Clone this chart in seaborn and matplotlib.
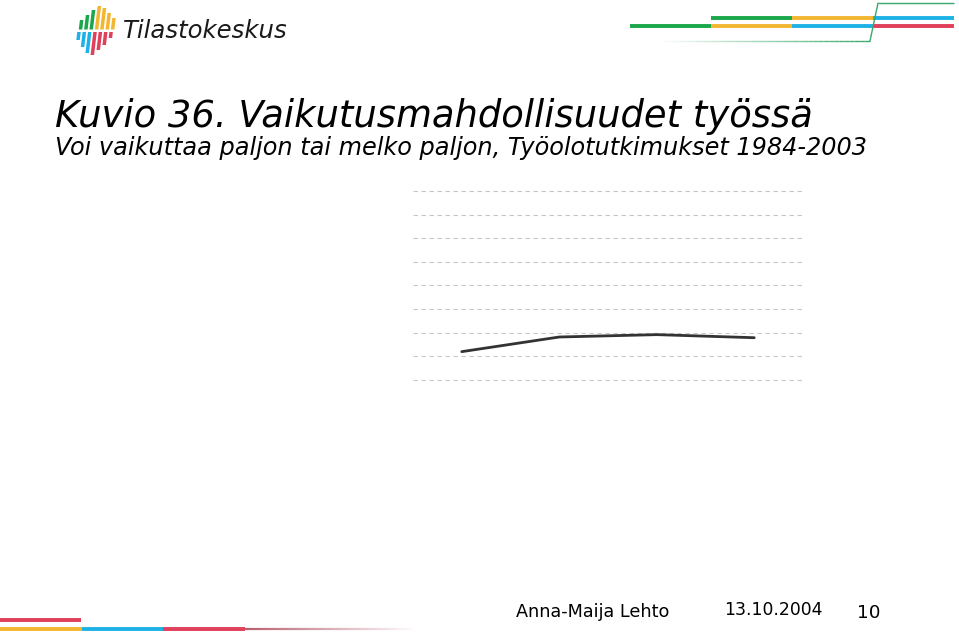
import numpy as np
import pandas as pd
import matplotlib
matplotlib.use("Agg")
import matplotlib.pyplot as plt
import seaborn as sns
from matplotlib.patches import Polygon
from matplotlib.lines import Line2D

# ---- data ----
years = ["1984", "1990", "1997", "2003"]
share = [22.0, 28.2, 29.2, 27.9]
grid_values = [10, 20, 30, 40, 50, 60, 70, 80, 90]

title = "Kuvio 36. Vaikutusmahdollisuudet työssä"
subtitle = "Voi vaikuttaa paljon tai melko paljon, Työolotutkimukset 1984-2003"
author = "Anna-Maija Lehto"
date = "13.10.2004"
page = "10"

W, H = 959, 635
sns.set_theme(style="white")
plt.rcParams['font.family'] = ['DejaVu Sans']

fig = plt.figure(figsize=(W / 100, H / 100), dpi=100)
fig.patch.set_facecolor("white")

def fx(x):
    return x / W

def fy(y):
    return 1 - y / H

# ---- plot area ----
ax = fig.add_axes([fx(413), fy(380), fx(803) - fx(413), fy(191) - fy(380)])
df = pd.DataFrame({"year": years, "share": share})
sns.lineplot(data=df, x="year", y="share", ax=ax, color="#333333", linewidth=2.0)
ax.set_xlim(-0.5, len(years) - 0.5)
ax.set_ylim(min(grid_values), max(grid_values))
ax.set_yticks(grid_values)
ax.yaxis.grid(True, linestyle=(0, (4, 3.2)), color="#c8c8c8", linewidth=0.8)
ax.xaxis.grid(False)
for sp in ax.spines.values():
    sp.set_visible(False)
ax.tick_params(left=False, bottom=False, labelleft=False, labelbottom=False)
ax.set_xlabel("")
ax.set_ylabel("")
for gl in ax.get_ygridlines():
    gl.set_clip_on(False)

# ---- text helpers ----
renderer = fig.canvas.get_renderer()

def fit_text(x, y_base, s, target_w, size0, **kw):
    t = fig.text(fx(x), fy(y_base), s, fontsize=size0, va="baseline", ha="left", **kw)
    w = t.get_window_extent(renderer).width
    t.set_fontsize(size0 * target_w / w)
    return t

fit_text(55, 127, title, 757, 28, style="italic", color="black")
fit_text(55, 155, subtitle, 813, 18, style="italic", color="black")

fit_text(516, 617, author, 152, 12, color="black")
fit_text(724, 615, date, 98, 12, color="black")
fit_text(857, 618, page, 23, 13, color="black")

# ---- logo ----
green = "#1aa64a"
yellow = "#f2b631"
blue = "#1eb1e6"
red = "#e0405a"

upper_tops = [20, 15, 10, 6, 8, 13, 18]
upper_cols = [green, green, green, yellow, yellow, yellow, yellow]
lower_bots = [40, 47, 53, 55, 50, 45, 38]
lower_cols = [blue, blue, blue, red, red, red, red]
x0 = 77.5
bw = 3.5
step = 5.35
slant = 0.12

def slanted_bar(xl, ytop, ybot, c):
    pts = [(xl + slant * (40 - ytop), ytop), (xl + bw + slant * (40 - ytop), ytop),
           (xl + bw + slant * (40 - ybot), ybot), (xl + slant * (40 - ybot), ybot)]
    fig.add_artist(Polygon([(fx(a), fy(b)) for a, b in pts], closed=True, color=c, lw=0))

for i in range(7):
    xl = x0 + i * step
    slanted_bar(xl, upper_tops[i], 29.5, upper_cols[i])
    slanted_bar(xl - 1.2, 32, lower_bots[i], lower_cols[i])

fit_text(123, 38, "Tilastokeskus", 165, 18, style="italic", color="#1a1a1a")

# ---- decorative lines ----
def hline(x1, x2, y, c, lw=3.0, alpha=1.0):
    fig.add_artist(Line2D([fx(x1), fx(x2)], [fy(y), fy(y)], color=c, lw=lw,
                          alpha=alpha, solid_capstyle="butt"))

# top right
hline(711, 792, 17.5, green, 2.8)
hline(792, 873, 17.5, yellow, 2.8)
hline(873, 954, 17.5, blue, 2.8)
hline(630, 711, 25.5, green, 2.8)
hline(711, 792, 25.5, yellow, 2.8)
hline(792, 873, 25.5, blue, 2.8)
hline(873, 954, 25.5, red, 2.8)
hline(878, 954, 3, "#3aa86a", 1.0)
fig.add_artist(Line2D([fx(870), fx(878)], [fy(41), fy(3)], color="#3aa86a", lw=1.0))
n = 40
xs = np.linspace(663, 870, n + 1)
for k in range(n):
    hline(xs[k], xs[k + 1], 41, "#3aa86a", 1.0, alpha=(k + 1) / n)

# bottom left
hline(0, 81, 620, red, 2.8)
hline(0, 82, 628.5, yellow, 2.8)
hline(82, 163, 628.5, blue, 2.8)
hline(163, 245, 628.5, red, 2.8)
xs = np.linspace(245, 415, n + 1)
for k in range(n):
    hline(xs[k], xs[k + 1], 629, "#b86070", 1.6, alpha=1 - k / n)

fig.savefig("out.png", dpi=100, facecolor="white")
